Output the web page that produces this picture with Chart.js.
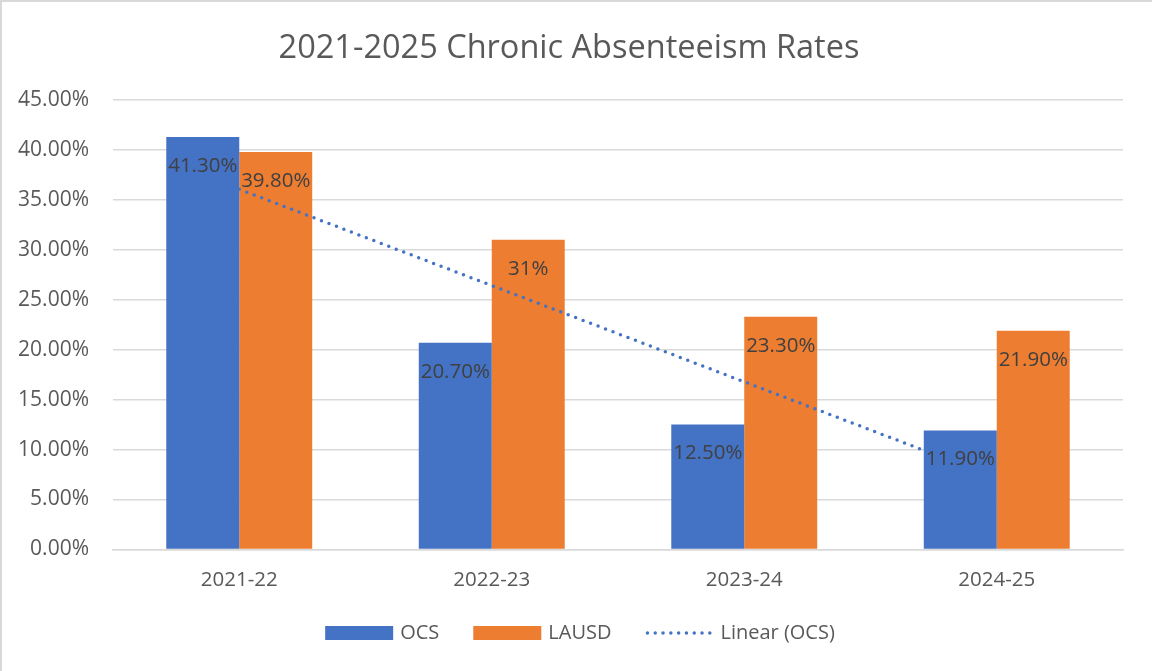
<!DOCTYPE html>
<html>
<head>
<meta charset="utf-8">
<script src="https://cdn.jsdelivr.net/npm/chart.js@4/dist/chart.umd.min.js"></script>
<style>
  html, body { margin: 0; padding: 0; background: #fff; }
  canvas { display: block; }
</style>
</head>
<body>
<canvas id="c" width="1152" height="671" style="width:1152px;height:671px"></canvas>
<script>
const categories = ["2021-22", "2022-23", "2023-24", "2024-25"];
const ocsValues = [41.3, 20.7, 12.5, 11.9];
const lausdValues = [39.8, 31.0, 23.3, 21.9];
const trendValues = [36.06, 26.42, 16.78, 7.14];
const ocsLabels = ["41.30%", "20.70%", "12.50%", "11.90%"];
const lausdLabels = ["39.80%", "31%", "23.30%", "21.90%"];
const yTicks = [0, 5, 10, 15, 20, 25, 30, 35, 40, 45];

const FONT = "'Open Sans', 'Noto Sans', sans-serif";
const BLUE = '#4472C4';
const ORANGE = '#ED7D31';

const framePlugin = {
  id: 'frame',
  beforeDraw(chart) {
    const ctx = chart.ctx;
    ctx.save();
    ctx.fillStyle = '#ffffff';
    ctx.fillRect(0, 0, chart.width, chart.height);
    ctx.strokeStyle = '#d9d9d9';
    ctx.lineWidth = 2;
    ctx.beginPath();
    ctx.moveTo(1, chart.height);
    ctx.lineTo(1, 1);
    ctx.lineTo(chart.width, 1);
    ctx.stroke();
    ctx.restore();
  }
};

const dataLabelPlugin = {
  id: 'dataLabels',
  afterDatasetsDraw(chart) {
    const ctx = chart.ctx;
    ctx.save();
    ctx.font = "20.5px " + FONT;
    ctx.fillStyle = '#404040';
    ctx.textAlign = 'center';
    ctx.textBaseline = 'middle';
    chart.data.datasets.forEach((ds, i) => {
      if (!ds.valueLabels) return;
      const meta = chart.getDatasetMeta(i);
      meta.data.forEach((el, j) => {
        ctx.fillText(ds.valueLabels[j], el.x, el.y + 29);
      });
    });
    ctx.restore();
  }
};

const legendPlugin = {
  id: 'customLegend',
  afterDraw(chart) {
    const ctx = chart.ctx;
    ctx.save();
    ctx.font = "20px " + FONT;
    const boxW = 68, boxH = 14, gapText = 7, gapItem = 34;
    const items = chart.data.datasets.map(ds => ({
      label: ds.label,
      kind: ds.type === 'line' ? 'line' : 'box',
      color: ds.type === 'line' ? ds.borderColor : ds.backgroundColor
    }));
    let total = 0;
    items.forEach((it, i) => {
      it.tw = ctx.measureText(it.label).width;
      total += boxW + gapText + it.tw + (i < items.length - 1 ? gapItem : 0);
    });
    let x = chart.width / 2 + 4 - total / 2;
    const cy = 633;
    items.forEach(it => {
      if (it.kind === 'box') {
        ctx.fillStyle = it.color;
        ctx.fillRect(x, cy - boxH / 2, boxW, boxH);
      } else {
        ctx.strokeStyle = it.color;
        ctx.lineWidth = 3.5;
        ctx.lineCap = 'round';
        ctx.setLineDash([0, 7.8]);
        ctx.beginPath();
        ctx.moveTo(x + 2, cy);
        ctx.lineTo(x + boxW, cy);
        ctx.stroke();
        ctx.setLineDash([]);
      }
      ctx.fillStyle = '#595959';
      ctx.textAlign = 'left';
      ctx.textBaseline = 'middle';
      ctx.fillText(it.label, x + boxW + gapText, cy);
      x += boxW + gapText + it.tw + gapItem;
    });
    ctx.restore();
  }
};

new Chart(document.getElementById('c'), {
  type: 'bar',
  data: {
    labels: categories,
    datasets: [
      { label: 'OCS', data: ocsValues, backgroundColor: BLUE, borderWidth: 0,
        categoryPercentage: 0.578, barPercentage: 1.0, order: 0, valueLabels: ocsLabels },
      { label: 'LAUSD', data: lausdValues, backgroundColor: ORANGE, borderWidth: 0,
        categoryPercentage: 0.578, barPercentage: 1.0, order: 2, valueLabels: lausdLabels },
      { type: 'line', label: 'Linear (OCS)', data: trendValues, borderColor: BLUE, backgroundColor: BLUE,
        borderWidth: 3.5, borderDash: [0, 8], borderCapStyle: 'round', pointRadius: 0, pointHoverRadius: 0,
        fill: false, tension: 0, order: 1 }
    ]
  },
  options: {
    responsive: false,
    animation: false,
    devicePixelRatio: 1,
    layout: { padding: { left: 15, right: 29, top: 0, bottom: 69 } },
    plugins: {
      title: {
        display: true,
        text: '2021-2025 Chronic Absenteeism Rates',
        color: '#595959',
        font: { family: FONT, size: 32.5, weight: 'normal' },
        padding: { top: 29, bottom: 32 }
      },
      legend: { display: false },
      tooltip: { enabled: false }
    },
    scales: {
      x: {
        grid: { display: false },
        border: { display: true, color: '#d9d9d9', width: 1.5 },
        ticks: { color: '#595959', font: { family: FONT, size: 20.5 }, padding: 10, maxRotation: 0 }
      },
      y: {
        min: 0, max: 45,
        afterBuildTicks: (scale) => { scale.ticks = yTicks.map(v => ({ value: v })); },
        afterFit: (scale) => { scale.width = 98; },
        grid: { color: '#d9d9d9', lineWidth: 1.5, drawTicks: false },
        border: { display: false },
        ticks: { color: '#595959', font: { family: FONT, size: 21 }, padding: 24,
          callback: (v) => Number(v).toFixed(2) + '%' }
      }
    }
  },
  plugins: [framePlugin, dataLabelPlugin, legendPlugin]
});
</script>
</body>
</html>
